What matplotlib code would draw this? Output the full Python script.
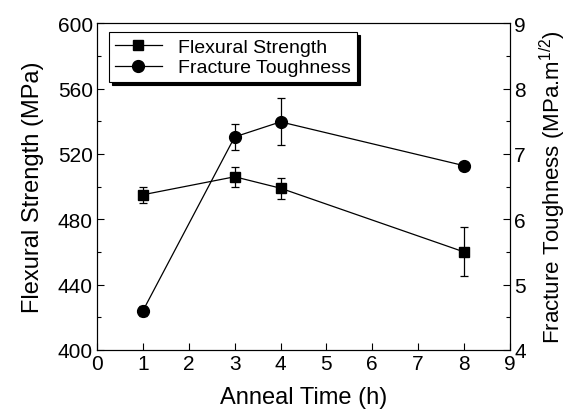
import matplotlib
matplotlib.use("Agg")
import matplotlib.pyplot as plt
from matplotlib.ticker import MultipleLocator
from matplotlib.lines import Line2D

plt.rcParams['font.family'] = ['Liberation Sans', 'DejaVu Sans']

anneal_time = [1, 3, 4, 8]
flexural_strength = [495, 506, 499, 460]
flexural_err = [5, 6, 6.5, 15]
toughness_time = [1, 3, 4, 8]
fracture_toughness = [4.60, 7.26, 7.49, 6.82]
toughness_err = [0.08, 0.20, 0.36, 0.06]

fig = plt.figure(figsize=(5.71, 4.10), dpi=100)
ax = fig.add_axes([0.170, 0.144, 0.723, 0.797])
ax2 = ax.twinx()

ax.errorbar(anneal_time, flexural_strength, yerr=flexural_err, color='black',
            marker='s', markersize=7.5, lw=0.9, elinewidth=0.9, capsize=3,
            capthick=0.9)
ax2.errorbar(toughness_time, fracture_toughness, yerr=toughness_err, color='black',
             marker='o', markersize=8.5, lw=0.9, elinewidth=0.9, capsize=3,
             capthick=0.9)

ax.set_xlim(0, 9)
ax.set_ylim(400, 600)
ax2.set_ylim(4, 9)
ax.xaxis.set_major_locator(MultipleLocator(1))
ax.yaxis.set_major_locator(MultipleLocator(40))
ax.yaxis.set_minor_locator(MultipleLocator(20))
ax2.yaxis.set_major_locator(MultipleLocator(1))
ax2.yaxis.set_minor_locator(MultipleLocator(0.5))

for a in (ax, ax2):
    a.tick_params(direction='in', which='both', labelsize=15, width=0.8)
    a.tick_params(which='major', length=5)
    a.tick_params(which='minor', length=3)
    for s in a.spines.values():
        s.set_linewidth(0.8)
ax.tick_params(axis='y', pad=3)
ax2.tick_params(axis='y', pad=3)
ax.tick_params(axis='x', pad=3)

ax.set_xlabel('Anneal Time (h)', fontsize=17, labelpad=9)
ax.set_ylabel('Flexural Strength (MPa)', fontsize=17, labelpad=10)
ax2.set_ylabel('Fracture Toughness (MPa.m$^{\\mathregular{1/2}}$)', fontsize=16, labelpad=9)

h1 = Line2D([], [], color='black', marker='s', markersize=7.5, lw=0.9)
h2 = Line2D([], [], color='black', marker='o', markersize=8.5, lw=0.9)
leg = ax.legend([h1, h2], ['Flexural Strength', 'Fracture Toughness'],
                loc='upper left', bbox_to_anchor=(0.029, 0.972), fontsize=14,
                frameon=True, shadow={'color': 'black', 'alpha': 1.0}, fancybox=False,
                edgecolor='black', handlelength=2.4, borderpad=0.3, labelspacing=0.15,
                handletextpad=0.85, borderaxespad=0)
leg.get_frame().set_linewidth(0.8)

fig.savefig('out.png', dpi=100)
